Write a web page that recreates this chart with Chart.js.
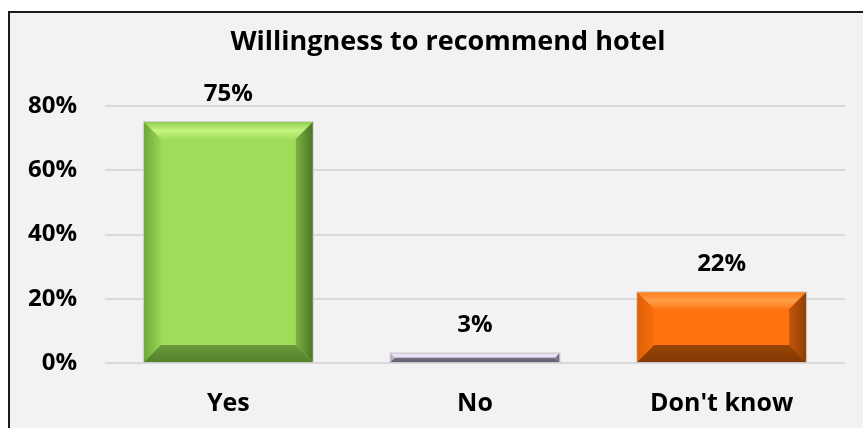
<!DOCTYPE html>
<html>
<head>
<meta charset="utf-8">
<script src="https://cdn.jsdelivr.net/npm/chart.js@4/dist/chart.umd.min.js"></script>
<style>
  html, body { margin: 0; padding: 0; background: #ffffff; }
  #wrap { width: 863px; height: 428px; }
</style>
</head>
<body>
<div id="wrap"><canvas id="recommendChart"></canvas></div>
<script>
// Data
const categories = ["Yes", "No", "Don't know"];
const shares = [75, 3, 22];
const barColors = ["#9edc5a", "#ddd2ee", "#ff7210"];
const yMax = 80;
const yStep = 20;
const chartTitle = "Willingness to recommend hotel";

const FONT = "'Open Sans', sans-serif";

// Bevel shades per bar: top [outer, strip, inner], left [outer, inner], right [outer, inner], bottom [outer, inner]
const bevelShades = [
    { top: ["#8fcf4c", "#c6f482", "#a2df5e"], left: ["#6ea83a", "#98d656"], right: ["#4b7428", "#7bb244"], bottom: ["#557f2e", "#6a9a3a"] },
    { top: ["#d6cce8", "#ece5f6", "#ddd2ee"], left: ["#a9a1b8", "#cfc5df"], right: ["#66617a", "#8f889e"], bottom: ["#625d6e", "#777185"] },
    { top: ["#ff801f", "#ff9d48", "#ff7614"], left: ["#dd6006", "#f86d0d"], right: ["#8e3f05", "#c45408"], bottom: ["#823804", "#9a4506"] }
];

// Light grey panel with the dark frame, and the title
const panelPlugin = {
    id: "panel",
    beforeDraw(chart) {
        const c = chart.ctx;
        c.save();
        c.fillStyle = "#ffffff";
        c.fillRect(0, 0, chart.width, chart.height);
        c.fillStyle = "#f2f2f2";
        c.fillRect(9, 12, chart.width, chart.height);
        c.strokeStyle = "#1a1a1a";
        c.lineWidth = 2;
        c.beginPath();
        c.moveTo(9, chart.height + 5);
        c.lineTo(9, 12);
        c.lineTo(chart.width + 5, 12);
        c.stroke();

        // title sits a bit right of the canvas centre, like the original frame
        c.font = "bold 27px " + FONT;
        c.fillStyle = "#000000";
        c.textAlign = "center";
        c.textBaseline = "middle";
        c.fillText(chartTitle, 448, 42);
        c.restore();
    }
};

// Bevelled look on each bar + value labels
const bevelPlugin = {
    id: "bevel",
    afterDatasetsDraw(chart) {
        const c = chart.ctx;
        const meta = chart.getDatasetMeta(0);
        meta.data.forEach((bar, i) => {
            const left = bar.x - bar.width / 2;
            const right = bar.x + bar.width / 2;
            const top = bar.y;
            const bottom = bar.base;
            const h = bottom - top;
            const b = Math.min(17, h / 2);
            const s = bevelShades[i];
            const poly = (pts, fill) => {
                c.beginPath();
                c.moveTo(pts[0][0], pts[0][1]);
                for (let k = 1; k < pts.length; k++) c.lineTo(pts[k][0], pts[k][1]);
                c.closePath();
                c.fillStyle = fill;
                c.fill();
            };
            const grad = (x0, y0, x1, y1, stops) => {
                const g = c.createLinearGradient(x0, y0, x1, y1);
                stops.forEach((col, k) => g.addColorStop(k / (stops.length - 1), col));
                return g;
            };
            c.save();
            poly([[left, top], [right, top], [right - b, top + b], [left + b, top + b]],
                grad(0, top, 0, top + b, s.top));
            poly([[left, top], [left + b, top + b], [left + b, bottom - b], [left, bottom]],
                grad(left, 0, left + b, 0, s.left));
            poly([[right, top], [right, bottom], [right - b, bottom - b], [right - b, top + b]],
                grad(right, 0, right - b, 0, s.right));
            poly([[left, bottom], [left + b, bottom - b], [right - b, bottom - b], [right, bottom]],
                grad(0, bottom, 0, bottom - b, s.bottom));
            c.strokeStyle = "rgba(200,200,200,0.8)";
            c.lineWidth = 1;
            c.strokeRect(left - 0.5, top - 0.5, right - left + 1, h + 1);
            c.restore();

            // value label
            c.save();
            c.font = "bold 24px " + FONT;
            c.fillStyle = "#000000";
            c.textAlign = "center";
            c.textBaseline = "middle";
            c.fillText(shares[i] + "%", bar.x, top - 28);
            c.restore();
        });
    }
};

const ctx = document.getElementById("recommendChart").getContext("2d");

new Chart(ctx, {
    type: "bar",
    data: {
        labels: categories,
        datasets: [{
            data: shares,
            backgroundColor: barColors,
            borderWidth: 0,
            barPercentage: 0.685,
            categoryPercentage: 1.0
        }]
    },
    options: {
        responsive: true,
        maintainAspectRatio: false,
        animation: false,
        layout: {
            padding: { left: 0, right: 18, top: 106, bottom: 0 }
        },
        plugins: {
            legend: { display: false },
            tooltip: { enabled: false },
            title: { display: false }
        },
        scales: {
            x: {
                grid: { display: false, drawTicks: false },
                border: { display: false },
                ticks: {
                    color: "#000000",
                    padding: 26,
                    font: { family: FONT, size: 25, weight: "bold" }
                },
                afterFit: (scale) => { scale.height = 65; }
            },
            y: {
                min: 0,
                max: yMax,
                grid: { color: "#d9d9d9", lineWidth: 2, drawTicks: false },
                border: { display: false },
                ticks: {
                    stepSize: yStep,
                    color: "#000000",
                    padding: 28,
                    font: { family: FONT, size: 24, weight: "bold" },
                    callback: (v) => v + "%"
                },
                afterFit: (scale) => { scale.width = 105; }
            }
        }
    },
    plugins: [panelPlugin, bevelPlugin]
});
</script>
</body>
</html>
